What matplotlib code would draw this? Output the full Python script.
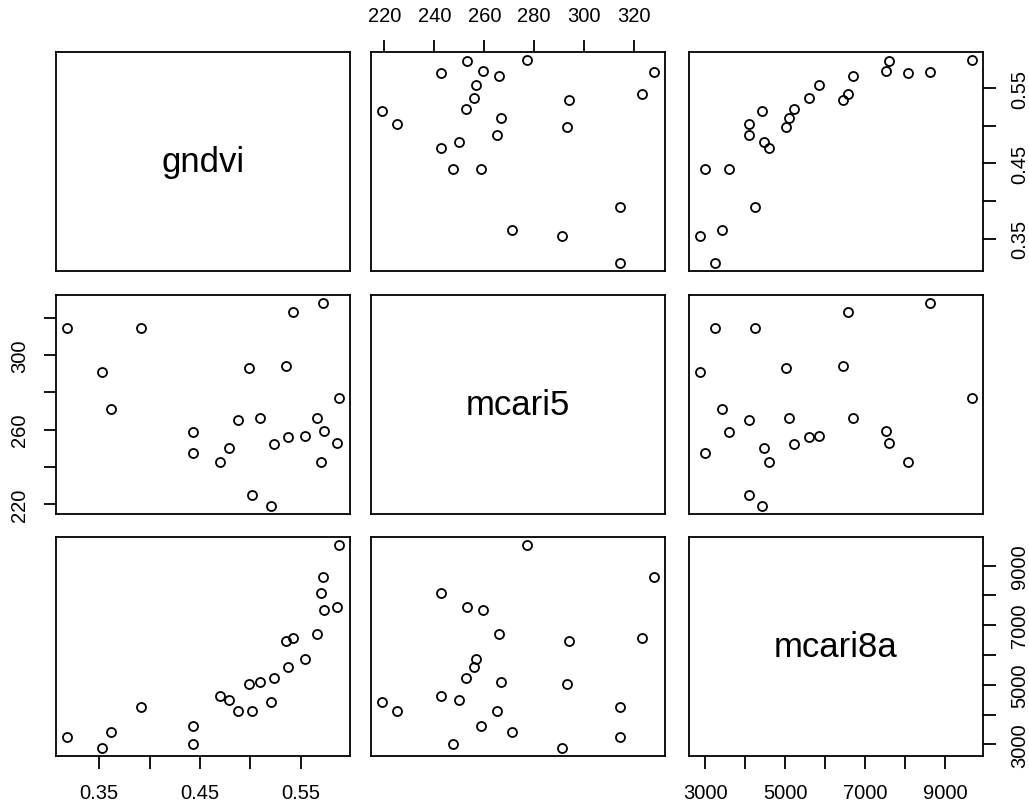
import matplotlib.pyplot as plt
import numpy as np

# Dados ------------------------------------------

names = ["gndvi", "mcari5", "mcari8a"]

gndvi = [0.318, 0.392, 0.353, 0.362, 0.443, 0.443, 0.470, 0.479, 0.488, 0.499,
         0.502, 0.510, 0.520, 0.523, 0.535, 0.537, 0.542, 0.554, 0.566, 0.570,
         0.572, 0.573, 0.586, 0.588]
mcari5 = [314.5, 314.5, 291, 271, 258.5, 247.5, 242.5, 250, 265, 293,
          225, 266.5, 219, 252.5, 294, 256, 323, 256.5, 266, 242.5,
          328, 259.5, 253, 277]
mcari8a = [3260, 4240, 2870, 3430, 3610, 3000, 4610, 4480, 4110, 5030,
           4110, 5100, 4430, 5220, 6460, 5590, 6570, 5850, 6690, 8070,
           8630, 7520, 7600, 9680]

# marcas e rótulos de cada eixo
ticks = {
    "gndvi": [0.35, 0.40, 0.45, 0.50, 0.55, 0.60],
    "mcari5": [220, 240, 260, 280, 300, 320],
    "mcari8a": [3000, 4000, 5000, 6000, 7000, 8000, 9000],
}
labels_side = {
    "gndvi": ["0.35", "", "0.45", "", "0.55", ""],
    "mcari5": ["220", "", "260", "", "300", ""],
    "mcari8a": ["3000", "", "5000", "", "7000", "", "9000"],
}
labels_top = ["220", "240", "260", "280", "300", "320"]

data = {"gndvi": np.array(gndvi), "mcari5": np.array(mcari5), "mcari8a": np.array(mcari8a)}


def limites(v):
    ext = (v.max() - v.min()) * 0.04
    return v.min() - ext, v.max() + ext


def poe_ticks(axis, nome, lim, rotulos):
    t = [x for x in ticks[nome] if lim[0] <= x <= lim[1]]
    r = [rotulos[i] for i, x in enumerate(ticks[nome]) if lim[0] <= x <= lim[1]]
    axis.set_ticks(t)
    axis.set_ticklabels(r)


# Figura ------------------------------------------

fig = plt.figure(figsize=(10.29, 8.03), dpi=100)
plt.rcParams['font.family'] = ['Liberation Sans', 'DejaVu Sans']

lefts = [56 / 1029, 371 / 1029, 689 / 1029]
bottoms = [1 - 271.7 / 803, 1 - 515 / 803, 1 - 757.3 / 803]
w = 294 / 1029
h = 219 / 803

for i, ny in enumerate(names):
    for j, nx in enumerate(names):
        ax = fig.add_axes([lefts[j], bottoms[i], w, h])
        for s in ax.spines.values():
            s.set_linewidth(1.3)
        xl = limites(data[nx])
        yl = limites(data[ny])
        ax.set_xlim(xl)
        ax.set_ylim(yl)
        ax.set_xticks([])
        ax.set_yticks([])
        ax.tick_params(length=9, width=1.3, labelsize=14.5, pad=10.5)

        if i == j:
            ax.text(0.5, 0.5, nx, transform=ax.transAxes, ha='center', va='center', fontsize=25)
        else:
            ax.plot(data[nx], data[ny], 'o', mfc='none', mec='black', ms=6.5, mew=1.3)

        # eixos alternados, como no pairs() do R
        if i == 0 and j == 1:
            ax.xaxis.tick_top()
            poe_ticks(ax.xaxis, nx, xl, labels_top)
        if i == 2 and j in (0, 2):
            poe_ticks(ax.xaxis, nx, xl, labels_side[nx])
        if j == 0 and i == 1:
            poe_ticks(ax.yaxis, ny, yl, labels_side[ny])
            ax.tick_params(axis='y', labelrotation=90)
            for lb in ax.get_yticklabels():
                lb.set_va('center')
        if j == 2 and i in (0, 2):
            ax.yaxis.tick_right()
            poe_ticks(ax.yaxis, ny, yl, labels_side[ny])
            ax.tick_params(axis='y', labelrotation=90)
            for lb in ax.get_yticklabels():
                lb.set_va('center')

plt.savefig("out.png", dpi=100)
plt.close()
